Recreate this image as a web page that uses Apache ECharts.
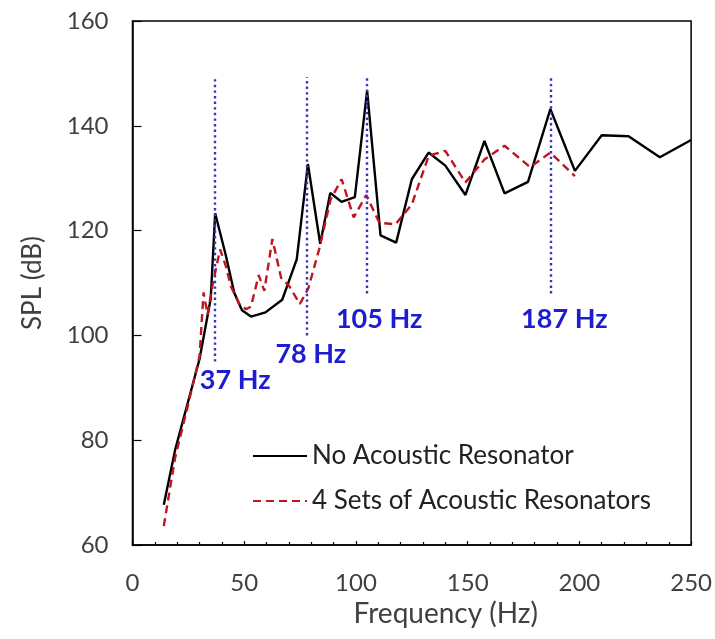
<!DOCTYPE html>
<html>
<head>
<meta charset="utf-8">
<script src="https://cdn.jsdelivr.net/npm/echarts@6/dist/echarts.min.js"></script>
<style>
  html, body { margin: 0; padding: 0; background: #fff; }
  #chart { width: 715px; height: 639px; }
</style>
</head>
<body>
<div id="chart"></div>
<script>
// Sound pressure level spectrum, [frequency (Hz), SPL (dB)]
const noResonator = [
  [14, 67.7], [19, 78], [30, 95.5], [35, 107], [37, 123.3], [41.8, 115.2],
  [45.5, 108.2], [49, 104.8], [53, 103.6], [59.5, 104.4], [67, 106.8],
  [73.5, 114.5], [78.5, 132.7], [84, 117.5], [88.5, 127.2], [93.5, 125.5],
  [99.5, 126.4], [105, 146.7], [111, 119.1], [118, 117.7], [125, 129.8],
  [132.5, 134.9], [140, 132.4], [149, 126.8], [157.5, 137.1], [166.5, 127.1],
  [177, 129.3], [187, 143.2], [198, 131.4], [210, 138.2], [222, 138],
  [236, 134], [250, 137.3]
];
const fourResonators = [
  [14, 63.6], [19, 76.5], [25, 87], [30, 96], [31.8, 108.2], [33.6, 104],
  [36, 110], [39.2, 116.4], [41.8, 113.2], [44, 109.4], [47.8, 106],
  [50.8, 105], [53, 105.5], [56.5, 111.5], [59, 108.5], [62.6, 118.4],
  [66.5, 111], [70, 109.5], [74.9, 106], [78.7, 109], [83.5, 116.4],
  [88.7, 126], [93.6, 129.8], [99, 122.5], [104.6, 126.8], [110.5, 121.5],
  [117.7, 121.2], [125, 125], [132.6, 134.3], [140, 135.2], [149, 129.2],
  [157.6, 133.6], [166.5, 136.2], [178, 132.1], [187, 134.9], [198, 130.4]
];

// Resonance frequencies marked with dotted guide lines
const resonanceFreqs = [37, 78, 105, 187];
const resonanceLabels = ['37 Hz', '78 Hz', '105 Hz', '187 Hz'];
const guideBottoms = [95, 100, 108, 108];
const guideTop = 149.3;

const seriesNames = ['No Acoustic Resonator', '4 Sets of Acoustic Resonators'];
const xTicks = [0, 50, 100, 150, 200, 250];
const yTicks = [60, 80, 100, 120, 140, 160];

// label placement relative to the bottom of each guide line (px)
const guideLabelOffsets = [[20, 0], [4, 0], [12, 7], [14, 7]];

const FONT = 'Lato, "Open Sans", sans-serif';
const TEXT = '#404040';

const guideLines = resonanceFreqs.map((f, i) => [
  {
    name: resonanceLabels[i],
    coord: [f, guideBottoms[i]],
    label: { offset: guideLabelOffsets[i] }
  },
  { coord: [f, guideTop] }
]);

const chart = echarts.init(document.getElementById('chart'), null, { renderer: 'canvas' });
chart.setOption({
  animation: false,
  backgroundColor: '#fff',
  grid: {
    left: 132.5, right: 22, top: 21, bottom: 94,
    show: true, borderColor: '#000', borderWidth: 1.5,
    containLabel: false
  },
  legend: {
    orient: 'vertical',
    left: 247, top: 436,
    itemWidth: 54, itemHeight: 14, itemGap: 15,
    itemStyle: { opacity: 0 },
    textStyle: { fontFamily: FONT, fontSize: 26, color: '#222', lineHeight: 30 },
    data: seriesNames
  },
  xAxis: {
    type: 'value',
    min: xTicks[0], max: xTicks[xTicks.length - 1], interval: 50,
    name: 'Frequency (Hz)',
    nameLocation: 'middle',
    nameGap: 53,
    nameTextStyle: { fontFamily: FONT, fontSize: 28, color: TEXT, padding: [0, 0, 0, 68] },
    axisLine: { lineStyle: { color: '#000', width: 1.5 } },
    axisTick: { inside: true, length: 4, lineStyle: { color: '#000', width: 1.2 } },
    minorTick: { show: true, splitNumber: 5, length: 3, lineStyle: { color: '#000', width: 1.2 } },
    axisLabel: { fontFamily: FONT, fontSize: 24, color: TEXT, margin: 26 },
    splitLine: { show: false }
  },
  yAxis: {
    type: 'value',
    min: yTicks[0], max: yTicks[yTicks.length - 1], interval: 20,
    name: 'SPL (dB)',
    nameLocation: 'middle',
    nameGap: 87,
    nameTextStyle: { fontFamily: FONT, fontSize: 26, color: TEXT },
    axisLine: { lineStyle: { color: '#000', width: 1.5 } },
    axisTick: { inside: true, length: 9, lineStyle: { color: '#000', width: 1.2 } },
    axisLabel: { fontFamily: FONT, fontSize: 24, color: TEXT, margin: 24 },
    splitLine: { show: false }
  },
  series: [
    {
      name: seriesNames[0],
      type: 'line',
      data: noResonator,
      symbol: 'none',
      z: 3,
      lineStyle: { color: '#000', width: 2.4 },
      itemStyle: { color: '#000' },
      markLine: {
        silent: true,
        symbol: 'none',
        animation: false,
        lineStyle: { color: '#3535c0', width: 2.4, type: [2.4, 3.2] },
        label: {
          show: true,
          position: 'start',
          distance: 5,
          formatter: '{b}',
          fontFamily: FONT,
          fontWeight: 'bold',
          fontSize: 27,
          color: '#1c1cd0'
        },
        emphasis: { disabled: true },
        data: guideLines
      }
    },
    {
      name: seriesNames[1],
      type: 'line',
      data: fourResonators,
      symbol: 'none',
      z: 4,
      lineStyle: { color: '#c0141f', width: 2.4, type: [8, 5] },
      itemStyle: { color: '#c0141f' }
    }
  ]
});
</script>
</body>
</html>
